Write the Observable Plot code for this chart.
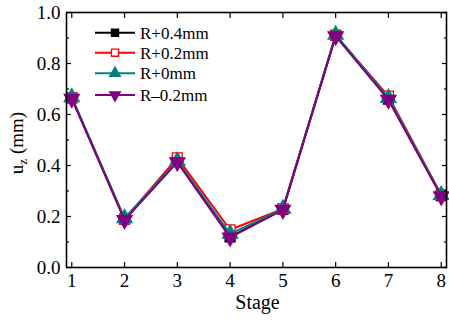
<!DOCTYPE html>
<html><head><meta charset="utf-8">
<script src="https://cdn.jsdelivr.net/npm/d3@7"></script>
<script src="https://cdn.jsdelivr.net/npm/@observablehq/plot@0.6"></script>
<style>
body{margin:0;background:#fff}
#chart{position:relative;width:449px;height:320px}
</style>
</head><body><div id="chart"></div>
<script>
const stages = [1, 2, 3, 4, 5, 6, 7, 8];
const seriesNames = ["R+0.4mm", "R+0.2mm", "R+0mm", "R\u20130.2mm"];
const valsR04 = [0.665, 0.19, 0.415, 0.12, 0.228, 0.91, 0.66, 0.282];
const valsR02 = [0.665, 0.19, 0.43, 0.148, 0.23, 0.91, 0.672, 0.285];
const valsR00 = [0.668, 0.193, 0.418, 0.132, 0.23, 0.913, 0.665, 0.284];
const valsRm02 = [0.662, 0.186, 0.413, 0.118, 0.226, 0.907, 0.658, 0.279];
const yMajor = [0, 0.2, 0.4, 0.6, 0.8, 1.0];
const yMinor = [0.1, 0.3, 0.5, 0.7, 0.9];

const sqrt3 = Math.sqrt(3);
const triangleDown = {
  draw(context, size) {
    const y = -Math.sqrt(size / (sqrt3 * 3));
    context.moveTo(0, -y * 2);
    context.lineTo(-sqrt3 * y, y);
    context.lineTo(sqrt3 * y, y);
    context.closePath();
  }
};
const styles = [
  {stroke: "#000000", fill: "#000000", symbol: "square", strokeM: "#000000"},
  {stroke: "#ff0000", fill: "#ffffff", symbol: "square", strokeM: "#ff0000"},
  {stroke: "#008080", fill: "#008080", symbol: "triangle", strokeM: "#008080"},
  {stroke: "#800080", fill: "#800080", symbol: triangleDown, strokeM: "#800080"}
];
const allVals = [valsR04, valsR02, valsR00, valsRm02];
const data = allVals.map((vals, i) => stages.map((s, j) => ({stage: s, v: vals[j], name: seriesNames[i]})));

const marks = [];
data.forEach((d, i) => {
  const st = styles[i];
  marks.push(Plot.line(d, {x: "stage", y: "v", stroke: st.stroke, strokeWidth: 2}));
  marks.push(Plot.dot(d, {x: "stage", y: "v", symbol: () => st.symbol, r: 5.6, fill: st.fill, stroke: st.strokeM, strokeWidth: 1.3}));
});
const blank = () => "";
const FONT = "'Liberation Serif', 'Times New Roman', serif";

const plot = Plot.plot({
  width: 449, height: 320,
  marginLeft: 66, marginRight: 3, marginTop: 12, marginBottom: 53,
  style: {fontFamily: FONT, fontSize: "19px", color: "#000", background: "#fff"},
  x: {domain: [0.9, 8.1]},
  y: {domain: [0, 1]},
  marks: [
    ...marks,
    Plot.axisX({ticks: stages, tickSize: -5, tickPadding: 11, tickFormat: d => String(d), anchor: "bottom", label: null, strokeWidth: 1.2, fontSize: 19}),
    Plot.axisX({ticks: stages, tickSize: -5, anchor: "top", tickFormat: blank, label: null, strokeWidth: 1.2}),
    Plot.axisY({ticks: yMajor, tickSize: -5, tickPadding: 11, tickFormat: d => d.toFixed(1), anchor: "left", label: null, strokeWidth: 1.2, fontSize: 19}),
    Plot.axisY({ticks: yMinor, tickSize: -3, tickFormat: blank, anchor: "left", label: null, strokeWidth: 1.2}),
    Plot.axisY({ticks: yMajor, tickSize: -5, tickFormat: blank, anchor: "right", label: null, strokeWidth: 1.2}),
    Plot.axisY({ticks: yMinor, tickSize: -3, tickFormat: blank, anchor: "right", label: null, strokeWidth: 1.2}),
    Plot.frame({stroke: "#000", strokeWidth: 1.6})
  ]
});
document.getElementById("chart").appendChild(plot);

const svg = d3.select(plot);
// x label
svg.append("text").attr("x", 257.5).attr("y", 309).attr("text-anchor", "middle")
  .attr("font-size", 20).attr("fill", "#000").text("Stage");
// y label with subscript
const yl = svg.append("text")
  .attr("transform", "translate(23,143) rotate(-90)")
  .attr("text-anchor", "middle")
  .attr("font-size", 19)
  .attr("fill", "#000");
yl.append("tspan").text("u");
yl.append("tspan").attr("font-size", 13).attr("dy", 4).text("z");
yl.append("tspan").attr("dy", -4).text(" (mm)");

// legend
const legY = [32.7, 52.7, 73.3, 95];
const lg = svg.append("g");
seriesNames.forEach((name, i) => {
  const st = styles[i];
  const y = legY[i];
  lg.append("line").attr("x1", 95).attr("x2", 135).attr("y1", y).attr("y2", y)
    .attr("stroke", st.stroke).attr("stroke-width", 2);
  const sym = typeof st.symbol === "string" ? (st.symbol === "square" ? d3.symbolSquare : d3.symbolTriangle) : st.symbol;
  lg.append("path").attr("d", d3.symbol(sym, 4 * 4 * Math.PI)())
    .attr("transform", `translate(115,${y})`)
    .attr("fill", st.fill).attr("stroke", st.strokeM).attr("stroke-width", 1.3);
  lg.append("text").attr("x", 140).attr("y", y).attr("dy", "0.35em")
    .attr("text-anchor", "start")
    .attr("font-size", 17).attr("fill", "#000").text(name);
});
svg.selectAll("text").attr("font-family", FONT).style("font-family", FONT);
</script>
</body></html>
